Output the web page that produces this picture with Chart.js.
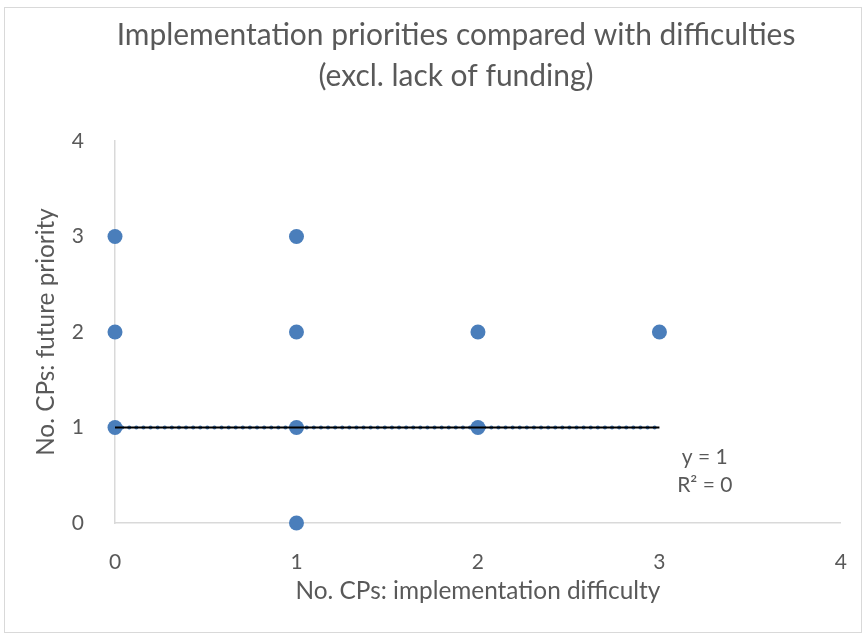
<!DOCTYPE html>
<html>
<head>
<meta charset="utf-8">
<script src="https://cdn.jsdelivr.net/npm/chart.js@4.4.0/dist/chart.umd.min.js"></script>
<style>
  html, body { margin: 0; padding: 0; background: #fff; }
</style>
</head>
<body>
<canvas id="chart" width="866" height="637"></canvas>
<script>
const titleLines = ['Implementation priorities compared with difficulties', '(excl. lack of funding)'];
const xTitle = 'No. CPs: implementation difficulty';
const yTitle = 'No. CPs: future priority';
const xTicks = [0, 1, 2, 3, 4];
const yTicks = [0, 1, 2, 3, 4];
const difficulty = [0, 0, 0, 1, 1, 1, 1, 2, 2, 3];
const priority   = [3, 2, 1, 3, 2, 1, 0, 2, 1, 2];
const trendX = [0, 3];
const trendY = [1, 1];
const trendLabel = ['y = 1', 'R² = 0'];

const FONT = 'Lato';
const TEXT = '#595959';
const BLUE = '#4a7ebb';

// font size that makes text span a given width
function fitSize(ctx, text, width) {
  ctx.font = '100px ' + FONT;
  return 100 * width / ctx.measureText(text).width;
}

const decor = {
  id: 'decor',
  afterDraw(chart) {
    const ctx = chart.ctx;
    const area = chart.chartArea;
    const xs = chart.scales.x, ys = chart.scales.y;
    ctx.save();
    // outer border
    ctx.strokeStyle = '#d9d9d9';
    ctx.lineWidth = 1;
    ctx.strokeRect(4.5, 7.5, 857, 625);

    ctx.fillStyle = TEXT;
    ctx.textAlign = 'center';
    ctx.textBaseline = 'middle';

    // title
    const ts = fitSize(ctx, titleLines[0], 679);
    ctx.font = ts + 'px ' + FONT;
    ctx.fillText(titleLines[0], 456, 35);
    ctx.fillText(titleLines[1], 456, 76);

    // axis titles
    const as = fitSize(ctx, xTitle, 365);
    ctx.font = as + 'px ' + FONT;
    ctx.fillText(xTitle, (area.left + area.right) / 2, 591);
    ctx.save();
    ctx.translate(46, (area.top + area.bottom) / 2);
    ctx.rotate(-Math.PI / 2);
    ctx.fillText(yTitle, 0, 0);
    ctx.restore();

    // trendline equation
    ctx.font = '21px ' + FONT;
    const lx = xs.getPixelForValue(trendX[1] + 0.25);
    const ly = ys.getPixelForValue(trendY[1]);
    ctx.fillText(trendLabel[0], lx, ly + 30);
    ctx.fillText(trendLabel[1], lx, ly + 58);
    ctx.restore();
  }
};

const trendData = trendX.map((x, i) => ({ x: x, y: trendY[i] }));

new Chart(document.getElementById('chart'), {
  type: 'scatter',
  data: {
    datasets: [
      {
        data: trendData,
        showLine: true,
        borderColor: '#000',
        borderWidth: 2,
        pointRadius: 0,
        clip: false
      },
      {
        data: trendData,
        showLine: true,
        borderColor: BLUE,
        borderWidth: 4,
        borderDash: [0.1, 7],
        borderCapStyle: 'round',
        pointRadius: 0,
        clip: false
      },
      {
        data: difficulty.map((x, i) => ({ x: x, y: priority[i] })),
        backgroundColor: BLUE,
        borderWidth: 0,
        pointRadius: 7.5,
        pointHoverRadius: 7.5,
        clip: false
      }
    ]
  },
  options: {
    responsive: false,
    animation: false,
    layout: { padding: { left: 0, right: 23, top: 141, bottom: 0 } },
    plugins: {
      legend: { display: false },
      tooltip: { enabled: false },
      title: { display: false }
    },
    scales: {
      x: {
        type: 'linear',
        min: 0,
        max: 4,
        afterBuildTicks: s => { s.ticks = xTicks.map(v => ({ value: v })); },
        afterFit: s => { s.height = 114; },
        grid: { display: false },
        border: { color: '#d9d9d9', width: 1.5 },
        ticks: { color: TEXT, font: { family: FONT, size: 21 }, padding: 19 }
      },
      y: {
        type: 'linear',
        min: 0,
        max: 4,
        afterBuildTicks: s => { s.ticks = yTicks.map(v => ({ value: v })); },
        afterFit: s => { s.width = 115; },
        grid: { display: false },
        border: { color: '#d9d9d9', width: 1.5 },
        ticks: { color: TEXT, font: { family: FONT, size: 21 }, padding: 23 }
      }
    }
  },
  plugins: [decor]
});
</script>
</body>
</html>
